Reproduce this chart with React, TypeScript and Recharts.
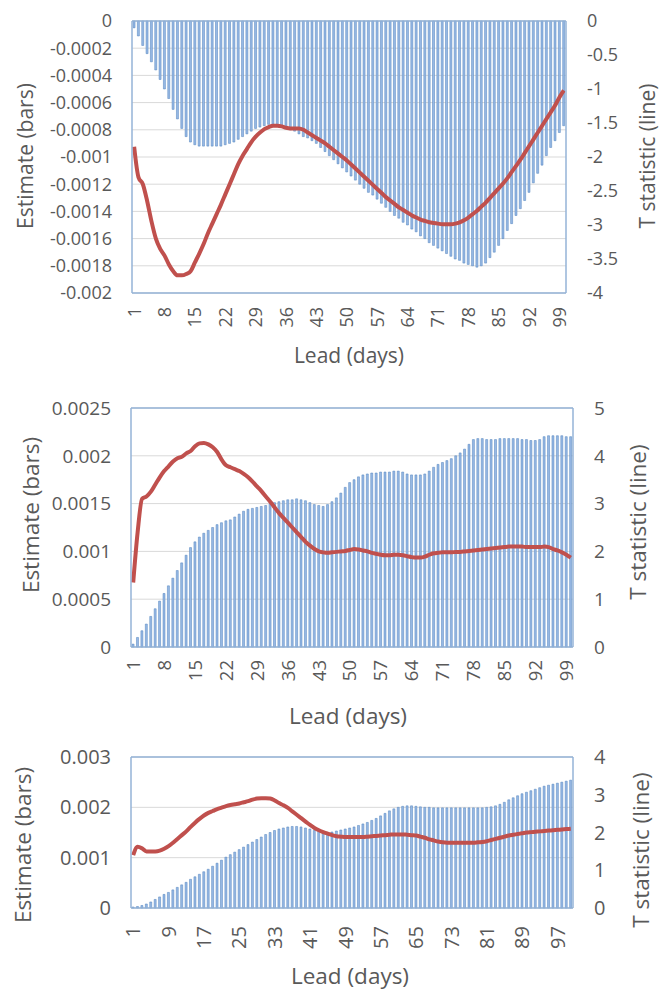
import React from 'react';
import { ComposedChart, Bar, Line, XAxis, YAxis, CartesianGrid, ReferenceLine } from 'recharts';

// lead days 1..100 (categories)
const leads = Array.from({ length: 100 }, (_, i) => i + 1);

// panel 1: estimate (bars) and t statistic (line)
const est1 = [
  -0.5e-4, -1.1e-4, -1.8e-4, -2.4e-4, -3.0e-4, -3.6e-4, -4.3e-4, -5.0e-4, -5.7e-4, -6.5e-4,
  -7.2e-4, -7.9e-4, -8.5e-4, -8.9e-4, -9.1e-4, -9.2e-4, -9.2e-4, -9.2e-4, -9.2e-4, -9.2e-4,
  -9.2e-4, -9.1e-4, -9.0e-4, -8.9e-4, -8.7e-4, -8.5e-4, -8.3e-4, -8.1e-4, -7.9e-4, -7.8e-4,
  -7.7e-4, -7.6e-4, -7.6e-4, -7.7e-4, -7.8e-4, -7.9e-4, -8.0e-4, -8.1e-4, -8.3e-4, -8.5e-4,
  -8.6e-4, -8.8e-4, -9.0e-4, -9.3e-4, -9.6e-4, -9.9e-4, -10.2e-4, -10.5e-4, -10.8e-4, -11.1e-4,
  -11.4e-4, -11.7e-4, -12.0e-4, -12.3e-4, -12.6e-4, -12.8e-4, -13.1e-4, -13.4e-4, -13.7e-4, -14.0e-4,
  -14.3e-4, -14.5e-4, -14.8e-4, -15.0e-4, -15.3e-4, -15.5e-4, -15.8e-4, -16.0e-4, -16.3e-4, -16.5e-4,
  -16.7e-4, -16.9e-4, -17.1e-4, -17.3e-4, -17.5e-4, -17.6e-4, -17.8e-4, -17.9e-4, -18.0e-4, -18.1e-4,
  -18.0e-4, -17.8e-4, -17.4e-4, -17.0e-4, -16.5e-4, -16.0e-4, -15.4e-4, -14.9e-4, -14.3e-4, -13.8e-4,
  -13.2e-4, -12.6e-4, -11.9e-4, -11.2e-4, -10.6e-4, -9.9e-4, -9.3e-4, -8.8e-4, -8.2e-4, -7.7e-4,
];
const t1 = [
  -1.85, -2.3, -2.4, -2.65, -2.95, -3.2, -3.35, -3.45, -3.58, -3.68,
  -3.74, -3.74, -3.72, -3.68, -3.55, -3.42, -3.28, -3.12, -2.98, -2.84,
  -2.7, -2.55, -2.4, -2.25, -2.1, -1.98, -1.88, -1.78, -1.7, -1.64,
  -1.59, -1.56, -1.54, -1.54, -1.55, -1.57, -1.58, -1.58, -1.58, -1.6,
  -1.64, -1.68, -1.72, -1.76, -1.8, -1.85, -1.9, -1.95, -2.0, -2.05,
  -2.11, -2.17, -2.23, -2.29, -2.35, -2.41, -2.47, -2.53, -2.59, -2.64,
  -2.69, -2.74, -2.78, -2.82, -2.86, -2.89, -2.92, -2.94, -2.96, -2.97,
  -2.98, -2.99, -2.99, -2.99, -2.98, -2.96, -2.93, -2.89, -2.84, -2.79,
  -2.73, -2.67, -2.6, -2.53, -2.46, -2.39, -2.31, -2.22, -2.13, -2.04,
  -1.94, -1.84, -1.74, -1.64, -1.54, -1.44, -1.34, -1.24, -1.12, -1.02,
];

// panel 2
const est2 = [
  0.3e-4, 1.0e-4, 1.7e-4, 2.4e-4, 3.2e-4, 4.0e-4, 4.8e-4, 5.6e-4, 6.4e-4, 7.2e-4,
  8.0e-4, 8.8e-4, 9.6e-4, 10.4e-4, 11.0e-4, 11.5e-4, 11.9e-4, 12.2e-4, 12.5e-4, 12.8e-4,
  13.0e-4, 13.2e-4, 13.3e-4, 13.6e-4, 13.9e-4, 14.2e-4, 14.4e-4, 14.5e-4, 14.6e-4, 14.7e-4,
  14.8e-4, 15.0e-4, 15.1e-4, 15.2e-4, 15.3e-4, 15.4e-4, 15.4e-4, 15.5e-4, 15.4e-4, 15.3e-4,
  15.1e-4, 14.9e-4, 14.8e-4, 14.7e-4, 14.9e-4, 15.2e-4, 15.6e-4, 16.1e-4, 16.7e-4, 17.2e-4,
  17.5e-4, 17.8e-4, 18.0e-4, 18.1e-4, 18.2e-4, 18.2e-4, 18.3e-4, 18.3e-4, 18.3e-4, 18.4e-4,
  18.4e-4, 18.3e-4, 18.1e-4, 18.0e-4, 18.0e-4, 18.0e-4, 18.1e-4, 18.4e-4, 18.8e-4, 19.1e-4,
  19.3e-4, 19.5e-4, 19.7e-4, 20.0e-4, 20.3e-4, 20.7e-4, 21.2e-4, 21.7e-4, 21.8e-4, 21.8e-4,
  21.7e-4, 21.7e-4, 21.7e-4, 21.8e-4, 21.8e-4, 21.8e-4, 21.8e-4, 21.8e-4, 21.7e-4, 21.7e-4,
  21.6e-4, 21.6e-4, 21.7e-4, 22.0e-4, 22.1e-4, 22.1e-4, 22.1e-4, 22.1e-4, 22.0e-4, 22.0e-4,
];
const t2 = [
  1.35, 2.4, 3.1, 3.15, 3.25, 3.4, 3.55, 3.68, 3.78, 3.88,
  3.95, 3.98, 4.05, 4.1, 4.2, 4.26, 4.27, 4.24, 4.18, 4.08,
  3.92, 3.8, 3.76, 3.72, 3.68, 3.62, 3.55, 3.46, 3.36, 3.26,
  3.15, 3.04, 2.92, 2.8, 2.7, 2.6, 2.5, 2.4, 2.3, 2.2,
  2.12, 2.05, 2.0, 1.98, 1.97, 1.98, 1.99, 2.0, 2.01, 2.03,
  2.05, 2.04, 2.02, 2.0, 1.97, 1.95, 1.93, 1.92, 1.92, 1.93,
  1.93, 1.92, 1.9, 1.88, 1.87, 1.87, 1.89, 1.93, 1.96, 1.97,
  1.98, 1.98, 1.98, 1.99, 1.99, 2.0, 2.01, 2.02, 2.03, 2.04,
  2.05, 2.06, 2.07, 2.08, 2.09, 2.1, 2.1, 2.1, 2.1, 2.09,
  2.09, 2.09, 2.09, 2.1, 2.09, 2.05, 2.02, 1.98, 1.93, 1.87,
];

// panel 3
const est3 = [
  0.2e-4, 0.3e-4, 0.5e-4, 0.8e-4, 1.2e-4, 1.7e-4, 2.2e-4, 2.7e-4, 3.1e-4, 3.6e-4,
  4.1e-4, 4.6e-4, 5.1e-4, 5.7e-4, 6.2e-4, 6.7e-4, 7.2e-4, 7.7e-4, 8.3e-4, 8.9e-4,
  9.5e-4, 10.1e-4, 10.6e-4, 11.1e-4, 11.6e-4, 12.1e-4, 12.6e-4, 13.1e-4, 13.6e-4, 14.1e-4,
  14.6e-4, 15.0e-4, 15.4e-4, 15.7e-4, 15.9e-4, 16.1e-4, 16.2e-4, 16.2e-4, 16.1e-4, 15.9e-4,
  15.7e-4, 15.4e-4, 15.2e-4, 15.1e-4, 15.0e-4, 15.1e-4, 15.3e-4, 15.5e-4, 15.7e-4, 15.9e-4,
  16.1e-4, 16.4e-4, 16.7e-4, 17.0e-4, 17.4e-4, 17.8e-4, 18.3e-4, 18.8e-4, 19.3e-4, 19.7e-4,
  20.0e-4, 20.2e-4, 20.3e-4, 20.3e-4, 20.2e-4, 20.1e-4, 20.0e-4, 20.0e-4, 19.9e-4, 19.9e-4,
  19.9e-4, 19.9e-4, 19.9e-4, 19.9e-4, 19.9e-4, 19.9e-4, 19.9e-4, 19.9e-4, 19.9e-4, 19.9e-4,
  20.0e-4, 20.1e-4, 20.3e-4, 20.6e-4, 21.0e-4, 21.5e-4, 21.9e-4, 22.3e-4, 22.7e-4, 23.0e-4,
  23.3e-4, 23.6e-4, 23.9e-4, 24.2e-4, 24.4e-4, 24.6e-4, 24.8e-4, 25.0e-4, 25.2e-4, 25.4e-4,
];
const t3 = [
  1.4, 1.62, 1.58, 1.5, 1.5, 1.5, 1.52, 1.57, 1.64, 1.73,
  1.83, 1.93, 2.03, 2.15, 2.26, 2.36, 2.45, 2.52, 2.57, 2.62,
  2.66, 2.7, 2.73, 2.75, 2.77, 2.8, 2.83, 2.87, 2.9, 2.91,
  2.91, 2.9, 2.85, 2.78, 2.72, 2.65, 2.56, 2.47, 2.38, 2.29,
  2.2, 2.12, 2.06, 2.01, 1.97, 1.93, 1.9, 1.89, 1.88, 1.88,
  1.88, 1.88, 1.88, 1.89, 1.9, 1.91, 1.92, 1.93, 1.94, 1.95,
  1.95, 1.95, 1.94, 1.93, 1.92, 1.89, 1.86, 1.82, 1.79, 1.76,
  1.74, 1.73, 1.73, 1.73, 1.73, 1.73, 1.73, 1.73, 1.74, 1.75,
  1.77, 1.8, 1.83, 1.86, 1.89, 1.92, 1.94, 1.96, 1.98, 2.0,
  2.01, 2.02, 2.03, 2.04, 2.05, 2.06, 2.07, 2.08, 2.09, 2.1,
];

const left1Ticks = [0, -0.0002, -0.0004, -0.0006, -0.0008, -0.001, -0.0012, -0.0014, -0.0016, -0.0018, -0.002];
const right1Ticks = [0, -0.5, -1, -1.5, -2, -2.5, -3, -3.5, -4];
const left2Ticks = [0, 0.0005, 0.001, 0.0015, 0.002, 0.0025];
const right2Ticks = [0, 1, 2, 3, 4, 5];
const left3Ticks = [0, 0.001, 0.002, 0.003];
const right3Ticks = [0, 1, 2, 3, 4];

const FONT = '"Open Sans", "Liberation Sans", sans-serif';
const TEXT = '#595959';
const BORDER = '#95b3d7';
const BAR_FILL = '#98b9e5';
const BAR_STROKE = '#4f81bd';
const LINE = '#c0504d';

const makeRows = (est: number[], t: number[]) =>
  leads.map((lead, i) => ({ lead, est: est[i], t: t[i] }));

const Title = (text: string, cx: number, cy: number, size: number, rotate: boolean) => () => (
  <text
    x={cx}
    y={cy}
    transform={rotate ? `rotate(-90, ${cx}, ${cy})` : undefined}
    textAnchor="middle"
    dominantBaseline="central"
    fontSize={size}
    fill={TEXT}
    fontFamily={FONT}
  >
    {text}
  </text>
);

const makeXTick = (size: number, gap: number) => (props: any) => {
  const { x, y, payload } = props;
  const ty = y + gap;
  return (
    <text
      x={x}
      y={ty}
      transform={`rotate(-90, ${x}, ${ty})`}
      textAnchor="end"
      dy="0.36em"
      fontSize={size}
      fill={TEXT}
      fontFamily={FONT}
    >
      {payload.value}
    </text>
  );
};

interface PanelProps {
  top: number;
  height: number;
  marginTop: number;
  leftW: number;
  rightW: number;
  xH: number;
  rows: { lead: number; est: number; t: number }[];
  leftDomain: [number, number];
  leftTicks: number[];
  rightDomain: [number, number];
  rightTicks: number[];
  topValue: number;
  interval: number;
  tickSize: number;
  xTickSize: number;
  xGap: number;
  titleSize: number;
  leftTitle: [number, number];
  rightTitle: [number, number];
  bottomTitle: [number, number];
}

function Panel(p: PanelProps) {
  return (
    <div style={{ position: 'absolute', left: 0, top: p.top }}>
      <ComposedChart
        width={661}
        height={p.height}
        data={p.rows}
        margin={{ top: p.marginTop, right: 0, bottom: 0, left: 0 }}
        barCategoryGap="24%"
      >
        <CartesianGrid yAxisId="left" vertical={false} stroke="#d9d9d9" strokeWidth={1} />
        <XAxis
          dataKey="lead"
          height={p.xH}
          interval={p.interval}
          tickSize={0}
          tickMargin={0}
          tickLine={false}
          axisLine={{ stroke: BORDER, strokeWidth: 1.5 }}
          tick={makeXTick(p.xTickSize, p.xGap)}
          label={Title('Lead (days)', p.bottomTitle[0], p.bottomTitle[1], p.titleSize, false)}
        />
        <YAxis
          yAxisId="left"
          orientation="left"
          width={p.leftW}
          domain={p.leftDomain}
          ticks={p.leftTicks}
          interval={0}
          tickSize={0}
          tickMargin={20}
          tickLine={false}
          axisLine={{ stroke: BORDER, strokeWidth: 1.5 }}
          tick={{ fontSize: p.tickSize, fill: TEXT, fontFamily: FONT }}
          label={Title('Estimate (bars)', p.leftTitle[0], p.leftTitle[1], p.titleSize, true)}
        />
        <YAxis
          yAxisId="right"
          orientation="right"
          width={p.rightW}
          domain={p.rightDomain}
          ticks={p.rightTicks}
          interval={0}
          tickSize={0}
          tickMargin={21}
          tickLine={false}
          axisLine={{ stroke: BORDER, strokeWidth: 1.5 }}
          tick={{ fontSize: p.tickSize, fill: TEXT, fontFamily: FONT }}
          label={Title('T statistic (line)', p.rightTitle[0], p.rightTitle[1], p.titleSize, true)}
        />
        <ReferenceLine yAxisId="left" y={p.topValue} stroke={BORDER} strokeWidth={1.5} />
        <Bar
          yAxisId="left"
          dataKey="est"
          fill={BAR_FILL}
          stroke={BAR_STROKE}
          strokeWidth={0.5}
          isAnimationActive={false}
        />
        <Line
          yAxisId="right"
          dataKey="t"
          type="monotone"
          stroke={LINE}
          strokeWidth={4}
          dot={false}
          activeDot={false}
          isAnimationActive={false}
        />
      </ComposedChart>
    </div>
  );
}

export default function App() {
  return (
    <div style={{ position: 'absolute', left: 0, top: 0, width: 661, height: 992, background: '#fff' }}>
      <Panel
        top={0}
        height={375}
        marginTop={21}
        leftW={132}
        rightW={95}
        xH={82}
        rows={makeRows(est1, t1)}
        leftDomain={[-0.002, 0]}
        leftTicks={left1Ticks}
        rightDomain={[-4, 0]}
        rightTicks={right1Ticks}
        topValue={0}
        interval={6}
        tickSize={18}
        xTickSize={18}
        xGap={14}
        titleSize={21}
        leftTitle={[25, 156]}
        rightTitle={[647, 156]}
        bottomTitle={[349, 355]}
      />
      <Panel
        top={375}
        height={360}
        marginTop={33}
        leftW={131}
        rightW={88}
        xH={88}
        rows={makeRows(est2, t2)}
        leftDomain={[0, 0.0025]}
        leftTicks={left2Ticks}
        rightDomain={[0, 5]}
        rightTicks={right2Ticks}
        topValue={0.0025}
        interval={6}
        tickSize={19}
        xTickSize={18.5}
        xGap={13}
        titleSize={22.5}
        leftTitle={[30, 140]}
        rightTitle={[637, 147]}
        bottomTitle={[348, 340]}
      />
      <Panel
        top={735}
        height={257}
        marginTop={22}
        leftW={131}
        rightW={88}
        xH={84}
        rows={makeRows(est3, t3)}
        leftDomain={[0, 0.003]}
        leftTicks={left3Ticks}
        rightDomain={[0, 4]}
        rightTicks={right3Ticks}
        topValue={0.003}
        interval={7}
        tickSize={20}
        xTickSize={20}
        xGap={18}
        titleSize={22.5}
        leftTitle={[22, 110]}
        rightTitle={[640, 115]}
        bottomTitle={[350, 240]}
      />
    </div>
  );
}
